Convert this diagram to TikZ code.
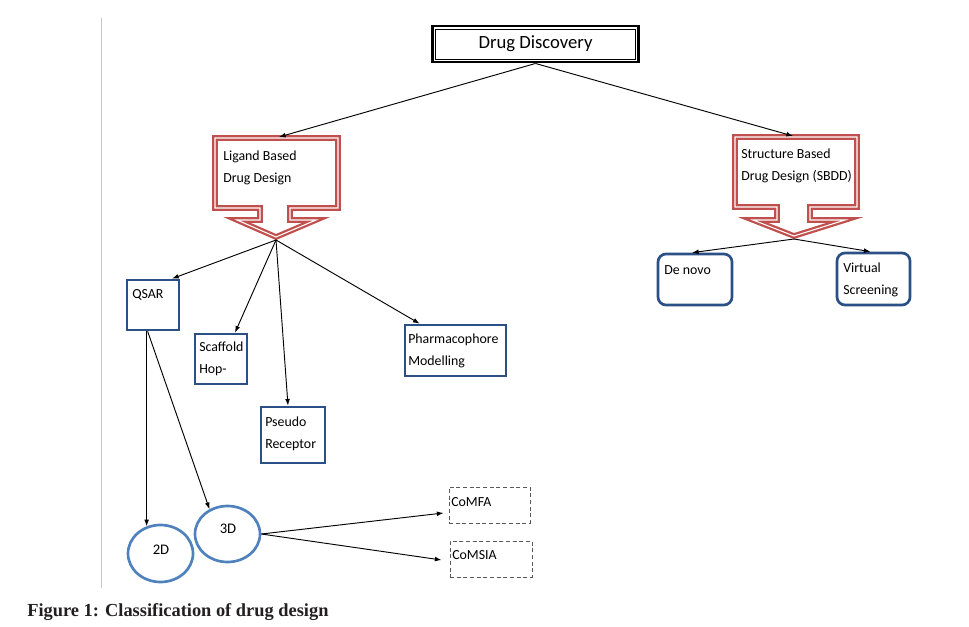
\documentclass[tikz,border=0pt]{standalone}
\usepackage{fontspec}
\setmainfont{Carlito}
\newfontfamily\capfont{Liberation Serif}
\usetikzlibrary{arrows.meta,calc,shapes.geometric}
\definecolor{boxblue}{HTML}{2B5088}
\definecolor{ellblue}{HTML}{4F81BD}
\definecolor{calred}{HTML}{C0504D}
\definecolor{capcol}{HTML}{231F20}
\newlength\pxu \setlength\pxu{0.75pt}
\begin{document}
\begin{tikzpicture}[x=0.75pt,y=-0.75pt,
  conn/.style={line width=0.7pt,-{Latex[length=5pt,width=3.6pt]}},
  bbox/.style={draw=boxblue,line width=2pt,rectangle,inner sep=0pt},
  rbox/.style={bbox,rounded corners=6pt},
  ebox/.style={draw=ellblue,line width=2pt,ellipse,inner sep=0pt},
  dbox/.style={draw=black!65,line width=0.7pt,rectangle,inner sep=0pt,dash pattern=on 3pt off 2pt},
  lbl/.style={font=\fontsize{10.4}{16.5}\selectfont,align=left,inner sep=0pt,anchor=north west},
  callout/.style={draw=calred,double=white,line width=1.7pt,double distance=0.8pt,line join=miter}
]
\useasboundingbox (0,0) rectangle (969,627);
% faint margin line
\draw[black!22,line width=0.8pt] (101.5,18) -- (101.5,588);

% top box
\node[draw=black,line width=2.2pt,minimum width=206*\pxu,minimum height=36*\pxu,inner sep=0pt,
      font=\fontsize{14}{16}\selectfont] (dd) at (535.5,44) {Drug Discovery};
\draw[line width=0.6pt] ($(dd.north west)+(4.5,4.5)$) rectangle ($(dd.south east)+(-4.5,-4.5)$);

% callouts
\draw[callout] (215,138) -- (338,138) -- (338,208) -- (290,208) -- (290,220) -- (316,220)
  -- (276,237) -- (237,220) -- (260,220) -- (260,208) -- (215,208) -- cycle;
\coordinate (lbtop) at (279,137);
\coordinate (lbtip) at (276,240);
\node[lbl] (lbtext) at (223,151) {Ligand Based\\Drug Design};

\draw[callout] (735,137) -- (857,137) -- (857,207) -- (810,207) -- (810,220) -- (845,220)
  -- (794,236) -- (753,220) -- (777,220) -- (777,207) -- (735,207) -- cycle;
\coordinate (sbtop) at (793,136);
\coordinate (sbtip) at (794,239);
\node[lbl] (sbtext) at (741,149) {Structure Based\\Drug Design (SBDD)};

% boxes
\node[bbox,minimum width=52*\pxu,minimum height=50*\pxu] (qsar) at (153,305) {};
\node[lbl] at (132,289) {QSAR};
\node[bbox,minimum width=52*\pxu,minimum height=50*\pxu] (scaf) at (221,359) {};
\node[lbl] at (199,342) {Scaffold\\Hop-};
\node[bbox,minimum width=64*\pxu,minimum height=56*\pxu] (pseudo) at (293,435) {};
\node[lbl] at (265,417) {Pseudo\\Receptor};
\node[bbox,minimum width=101*\pxu,minimum height=51*\pxu] (pharma) at (455.5,350.5) {};
\node[lbl] at (408,334) {Pharmacophore\\Modelling};
\node[rbox,minimum width=74*\pxu,minimum height=51*\pxu] (denovo) at (695,279.5) {};
\node[lbl] at (664,265) {De novo};
\node[rbox,minimum width=73*\pxu,minimum height=52*\pxu] (virtual) at (873.5,279) {};
\node[lbl] at (843,263) {Virtual\\Screening};

% ellipses
\node[ebox,minimum width=65*\pxu,minimum height=57*\pxu] (d2) at (160.5,553.5) {};
\node[font=\fontsize{11}{12}\selectfont,inner sep=0pt] at (161,550) {2D};
\node[ebox,minimum width=65*\pxu,minimum height=56*\pxu] (d3) at (227.5,534) {};
\node[font=\fontsize{11}{12}\selectfont,inner sep=0pt] at (228,529) {3D};

% dashed boxes
\node[dbox,minimum width=81*\pxu,minimum height=36*\pxu] (comfa) at (489.5,505) {};
\node[lbl] at (451,497) {CoMFA};
\node[dbox,minimum width=82*\pxu,minimum height=36*\pxu] (comsia) at (491,559) {};
\node[lbl] at (452,550) {CoMSIA};

% caption
\node[anchor=base west,inner sep=0pt,text=capcol,font=\capfont\bfseries\fontsize{13.8}{16}\selectfont]
  (cap) at (27,616) {Figure 1: Classification of drug design};

% connectors
\draw[conn] (dd.south) -- (lbtop);
\draw[conn] (dd.south) -- (sbtop);
\draw[conn] (lbtip) -- ($(qsar.north)+(19,0)$);
\draw[conn] (lbtip) -- ($(scaf.north)+(14,0)$);
\draw[conn] (lbtip) -- ($(pseudo.north)+(-5,0)$);
\draw[conn] (lbtip) -- ($(pharma.north west)+(16,0)$);
\draw[conn] (sbtip) -- ($(denovo.north)+(-3,0)$);
\draw[conn] (sbtip) -- ($(virtual.north)+(-3,0)$);
\draw[conn] (qsar.south -| d2.117) -- (d2.117);
\draw[conn] ($(qsar.south -| d2.117)+(1,0)$) -- (d3.126);
\draw[conn] (d3.east) -- ($(comfa.west)+(-5,8)$);
\draw[conn] (d3.east) -- ($(comsia.west)+(-8,1)$);
\end{tikzpicture}
\end{document}
